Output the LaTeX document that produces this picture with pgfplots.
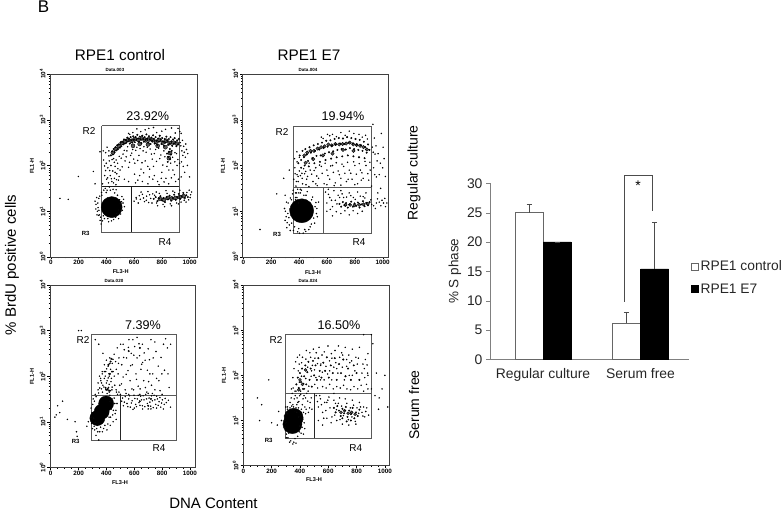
\documentclass[border=0pt]{standalone}
\usepackage{fontspec}
\setmainfont{Liberation Sans}
\usepackage{pgfplots}
\pgfplotsset{compat=1.18}
\newcommand{\T}[4][]{\node[inner sep=0pt,#1] at (#2pt,{(510-#3)*1pt}) {#4};}
\pgfplotsset{
 flow/.style={scale only axis,width=147pt,height=183pt,anchor=south west,
  ymin=0,ymax=400,clip=true,axis line style={black!75,line width=0.7pt},
  xtick={0,200,400,600,800,1000},xticklabels={0,200,400,600,800,1000},
  minor xtick={50,100,150,250,300,350,450,500,550,650,700,750,850,900,950},
  ytick={0,100,200,300,400},
  yticklabels={10\textsuperscript{0},10\textsuperscript{1},10\textsuperscript{2},10\textsuperscript{3},10\textsuperscript{4}},
  minor ytick={30,48,60,70,78,85,90,95,130,148,160,170,178,185,190,195,230,248,260,270,278,285,290,295,330,348,360,370,378,385,390,395},
  tick align=outside,xtick pos=bottom,ytick pos=left,
  major tick length=2.5pt,minor tick length=1.3pt,
  tick style={black,line width=0.4pt},
  xticklabel style={font=\bfseries\fontsize{6.3}{7}\selectfont,yshift=2.5pt},
  yticklabel style={font=\bfseries\fontsize{6.3}{7}\selectfont,rotate=90,anchor=south,yshift=-1.5pt},
 },
 sp/.style={only marks,mark=*,mark size=0.52pt,mark options={draw=none,fill=black!72}},
 de/.style={only marks,mark=*,mark size=0.78pt,mark options={draw=none,fill=black}},
 co/.style={only marks,mark=*,mark size=#1pt,mark options={draw=none,fill=black,fill opacity=0.65}},
 gate/.style={no marks,black!65,line width=0.9pt},
}
\begin{document}
\begin{tikzpicture}
\path[use as bounding box] (0,0) rectangle (784pt,510pt);
% ---------- panel 1
\begin{axis}[flow,at={(50pt,253pt)},xmin=-7,xmax=1054]
\addplot[gate] coordinates {(366,287)(926,287)(926,54)(366,54)(366,287)};
\addplot[gate,black!90] coordinates {(366,154)(926,154)};
\addplot[gate,black!90] coordinates {(580,154)(580,54)};
\addplot[only marks,mark=*,mark size=10.5pt,mark options={draw=none,fill=black}] coordinates {(438,109)};
\addplot[sp] coordinates {(402,170)(410,195)(415,162)(421,210)(428,178)(433,200)(440,165)(446,188)(452,215)(458,172)(463,198)(469,158)(475,182)(481,205)(487,168)(493,220)(499,190)(380,212)(388,178)(395,228)(405,240)(418,232)(470,212)(492,176)
(520,225)(535,210)(548,232)(560,196)(575,222)(590,235)(605,205)(620,240)(635,222)(650,192)(665,232)(680,210)(695,240)(710,175)(725,225)(740,198)(755,235)(770,165)(785,215)(800,185)(815,232)(830,172)(880,190)(895,228)(910,200)(920,170)(660,165)(700,160)(735,170)(640,178)(610,162)(780,158)(850,160)(900,165)(560,165)(530,170)
(932,250)(945,232)(958,242)(970,218)(985,200)(940,270)(952,222)(965,185)(978,235)(1000,175)(940,175)(928,205)
(560,270)(620,280)(680,278)(740,283)(800,275)(870,282)(930,274)
(600,122)(615,130)(630,118)(645,126)(660,137)(675,121)(690,133)(705,119)(720,128)(735,138)(650,142)(700,143)(760,142)(830,145)(880,144)(930,146)(770,112)(820,110)(870,112)(920,116)(975,120)(1005,130)(1015,142)(998,146)
(325,115)(335,100)(345,128)(350,92)(365,141)(378,90)(392,150)(410,84)(428,146)(445,88)(460,140)(478,95)(495,125)(505,108)(512,132)(520,118)(330,130)(340,108)(355,80)(480,135)(530,110)
(306,187)(354,230)(198,176)(65,128)(125,126)(318,160)
(441,213)(457,207)(463,185)(424,189)(409,173)(436,171)(451,162)(473,169)(418,221)(399,205)(387,199)(377,232)(372,160)(394,189)(483,193)(507,216)(514,197)(529,233)(543,219)(553,241)(567,207)(583,227)(597,214)(612,233)(626,211)(643,237)(657,206)(671,241)(687,229)(699,198)(716,236)(731,214)(746,226)(762,209)(777,238)(793,223)(807,201)(822,219)(837,198)(851,190)(864,205)(878,218)(891,180)(906,226)(916,213)(603,181)(627,168)(669,184)(712,192)(746,178)(796,172)(816,164)(869,173)(894,208)(937,243)(949,255)(962,229)(973,247)(987,226)(942,208)(955,198)(569,268)(591,272)(648,274)(706,281)(763,272)(827,279)(897,271)(917,281)(616,127)(638,134)(668,129)(688,124)(712,136)(729,118)(748,135)(763,118)(782,139)(809,115)(838,139)(861,116)(893,141)(907,118)(939,120)(962,124)(981,141)(994,125)(1008,136)
(338,118)(346,102)(352,133)(343,91)(359,87)(367,135)(372,79)(386,84)(399,141)(416,77)(437,79)(452,82)(466,87)(472,128)(488,103)(497,117)(503,94)(515,102)(524,126)(488,84)(332,92)(324,105)(318,122)(362,72)(405,146)(421,153)(448,148)(470,147)(509,121)(381,146)};
\addplot[de] coordinates {(432,222)(441,231)(447,224)(452,236)(459,229)(466,240)(471,233)(478,244)(484,236)(490,246)(497,239)(503,250)(508,242)(515,252)(521,246)(527,257)(533,248)(539,256)(545,250)(551,261)(557,253)(563,258)(569,248)(575,262)(581,255)(587,250)(593,264)(599,257)(605,251)(611,262)(617,256)(623,267)(629,259)(635,252)(641,263)(647,257)(653,249)(659,265)(665,258)(671,252)(677,262)(683,256)(689,268)(695,259)(701,250)(707,264)(713,257)(719,247)(725,261)(731,254)(737,266)(743,258)(749,248)(755,262)(761,254)(767,245)(773,259)(779,252)(785,265)(791,256)(797,247)(803,260)(809,252)(815,243)(821,258)(827,250)(833,263)(839,254)(845,245)(851,258)(857,248)(863,262)(869,253)(875,243)(881,257)(887,248)(893,260)(899,251)(905,242)(911,255)(917,246)(923,258)
(838,226)(846,219)(852,230)(860,214)(866,224)(872,232)(843,208)(858,236)
(742,127)(756,131)(768,122)(779,128)(790,133)(801,124)(812,129)(823,120)(834,131)(845,126)(856,134)(867,123)(878,129)(889,136)(900,125)(911,131)(922,138)(933,127)(944,133)(955,140)(966,129)(977,135)(988,131)};
\addplot[co=2] coordinates {(447,228)(468,236)(489,243)(511,249)(534,252)(558,256)(582,254)(604,258)(631,256)(656,259)(683,255)(708,257)(734,255)(759,252)(783,256)(808,250)(833,254)(857,249)(884,250)(908,248)(592,243)(640,247)(700,246)(770,243)(826,240)(860,227)(851,216)(786,127)(815,125)(843,129)(872,128)(900,129)(930,131)(958,133)};
\end{axis}
% ---------- panel 2
\begin{axis}[flow,at={(242.7pt,253pt)},width=145.3pt,xmin=-4,xmax=1038]
\addplot[gate] coordinates {(359,286)(918,286)(918,52)(359,52)(359,286)};
\addplot[gate] coordinates {(359,152)(918,152)};
\addplot[gate] coordinates {(572,152)(572,52)};
\addplot[only marks,mark=*,mark size=12pt,mark options={draw=none,fill=black}] coordinates {(419,101)};
\addplot[sp] coordinates {(362,170)(370,195)(378,155)(386,180)(394,165)(402,188)(368,215)(385,230)(375,140)(390,148)(398,140)(410,178)(425,160)(440,182)(455,170)(375,125)(385,130)(395,118)(415,125)(435,135)
(480,190)(500,165)(520,195)(540,172)(560,198)(580,160)(600,190)(620,170)(640,200)(660,162)(680,188)(700,172)(720,198)(740,165)(760,190)(780,170)(800,200)(820,160)(840,190)(860,172)(880,200)(900,168)(910,190)(520,160)(600,158)(700,157)(800,158)(450,158)
(560,262)(640,268)(700,272)(760,275)(830,268)(890,258)(620,265)
(925,240)(945,225)(960,210)(975,180)(990,270)(935,195)(955,175)(1000,195)(1010,215)(920,155)(965,140)(940,260)(985,150)(930,290)
(600,118)(620,130)(640,110)(660,124)(680,135)(590,142)(610,148)(650,145)(700,145)(760,140)(820,142)(880,140)(720,130)(790,130)(860,132)(915,125)(935,112)(955,118)(975,120)(995,124)(1015,128)(1030,118)(600,100)(640,90)(700,95)(760,92)(820,95)
(300,80)(310,120)(320,95)(330,70)(345,125)(360,58)(375,130)(390,55)(410,140)(430,52)(450,135)(470,60)(490,125)(505,85)(515,110)(525,95)(335,105)(315,75)(540,120)
(240,138)(120,60)(300,135)(330,190)(290,172)
(421,183)(433,193)(448,187)(461,176)(473,205)(491,181)(508,189)(527,177)(547,201)(566,183)(587,205)(607,178)(627,199)(646,185)(667,206)(689,180)(708,203)(729,183)(748,207)(771,183)(792,208)(811,181)(832,204)(851,184)(873,209)(893,182)(908,207)(402,218)(386,208)(372,182)(381,165)(393,176)(409,148)(423,172)(471,154)(531,156)(652,156)(752,170)(846,168)(573,259)(604,268)(668,263)(731,266)(793,270)(853,262)(877,266)(932,229)(952,243)(967,226)(983,205)(943,180)(1003,240)(1019,176)(611,137)(633,124)(672,116)(691,130)(709,138)(741,131)(771,134)(803,126)(839,133)(872,129)(921,115)(947,106)(963,127)(987,112)(1006,118)(1020,110)(624,104)(667,99)(729,101)(788,101)(853,100)
(322,118)(327,86)(338,129)(347,74)(353,138)(368,66)(382,140)(398,62)(417,146)(441,60)(459,143)(480,66)(497,131)(512,74)(521,119)(531,88)(302,100)(308,88)(296,106)(358,146)(404,52)(448,56)(488,72)(528,106)(312,64)(337,58)};
\addplot[de] coordinates {(395,205)(405,222)(415,212)(425,232)(435,218)(445,236)(455,224)(465,210)(475,240)(485,228)(495,216)(505,244)(515,232)(525,221)(535,247)(545,235)(555,222)(565,250)(575,238)(585,226)(595,254)(605,241)(615,229)(625,255)(635,243)(645,231)(655,258)(665,246)(675,234)(685,260)(695,248)(705,236)(715,259)(725,247)(735,235)(745,262)(755,250)(765,238)(775,260)(785,248)(795,236)(805,258)(815,246)(825,234)(835,256)(845,244)(855,232)(865,252)(875,240)(885,228)(895,246)(905,234)(415,195)(440,200)(470,198)(510,205)(550,208)(590,212)(630,215)(670,218)(710,220)(750,222)(790,220)(830,218)(870,216)
(690,116)(702,110)(714,120)(726,113)(738,118)(750,108)(762,115)(774,121)(786,110)(798,117)(810,112)(822,119)(834,108)(846,115)(858,122)(870,111)(882,118)(894,113)(906,120)};
\addplot[co=1.7] coordinates {(438,222)(459,228)(482,232)(507,232)(533,237)(558,240)(584,242)(610,246)(634,244)(661,247)(688,246)(712,247)(738,248)(763,250)(789,246)(813,245)(838,243)(862,240)(887,235)(447,206)(502,214)(571,222)(640,226)(715,234)(790,232)(733,114)(766,114)(798,113)(831,114)(862,115)(893,116)};
\end{axis}
% ---------- panel 3
\begin{axis}[flow,at={(50pt,42.7pt)},width=145pt,height=182.3pt,xmin=-5,xmax=1036]
\addplot[gate] coordinates {(294,292)(905,292)(905,60)(294,60)(294,292)};
\addplot[gate] coordinates {(294,158)(905,158)};
\addplot[gate,black!85] coordinates {(503,158)(503,60)};
\addplot[only marks,mark=*,mark size=7.5pt,mark options={draw=none,fill=black}] coordinates {(335,108)(366,122)(398,140)};
\addplot[sp] coordinates {(290,130)(300,100)(305,150)(312,90)(320,160)(330,85)(340,170)(352,78)(365,172)(380,85)(395,175)(410,95)(420,165)(430,110)(440,150)(450,125)(460,140)(470,105)(480,160)(290,110)(300,85)(415,175)(400,185)(385,195)(360,190)(340,185)(375,180)(430,168)(445,115)(350,200)(370,205)(395,210)(420,200)(325,70)(345,60)(270,100)(260,90)
(200,300)(220,300)(120,105)(85,145)(40,115)(30,110)(65,120)(50,135)(185,78)(190,68)(175,100)
(320,280)(345,270)(365,185)(375,250)(385,210)(395,172)(400,235)(405,190)(412,222)(418,205)(424,240)(430,215)(436,195)(442,228)(448,210)(455,248)(460,180)(466,232)(472,165)(478,262)(484,205)(490,240)(496,180)(502,270)(510,225)(520,198)(528,258)(535,170)(545,240)(555,212)(562,280)(570,190)(578,250)(586,225)(595,170)(603,265)(612,205)(620,285)(628,178)(638,245)(648,215)(658,270)(668,190)(678,235)(690,165)(700,260)(712,205)(724,180)(736,240)(748,275)(760,195)(772,222)(785,168)(798,205)(810,270)(825,282)(838,262)(850,175)(620,240)(660,230)(520,270)(590,280)(680,175)(730,162)(560,160)(500,160)(720,280)
(510,145)(522,135)(535,155)(548,140)(560,150)(572,132)(585,146)(598,158)(610,138)(622,150)(634,142)(646,156)(658,135)(670,148)(682,160)(694,140)(706,152)(718,134)(730,146)(742,158)(754,138)(766,150)(778,144)(790,132)(802,148)(815,138)(830,142)(800,160)(760,130)(720,128)(660,128)(600,130)(490,165)(470,170)(640,160)(700,162)
(297,120)(302,138)(309,108)(314,145)(318,98)(326,155)(334,92)(344,163)(358,88)(372,165)(389,92)(408,170)(419,110)(427,145)(436,128)(446,140)(456,152)(463,118)(476,140)(294,96)(316,82)(338,78)(371,78)(404,82)(428,92)(448,100)(468,125)(382,176)(352,174)(405,162)(425,158)(440,170)
(392,200)(402,216)(413,196)(425,228)(433,188)(447,237)(456,200)(471,215)(487,228)(508,183)(524,241)(542,204)(558,263)(574,223)(597,246)(616,193)(634,271)(653,226)(671,251)(694,213)(709,236)(733,205)(756,254)(777,190)(792,241)(817,213)(842,205)(861,270)(583,172)(642,172)(703,188)(748,170)(420,182)(441,176)(385,225)(370,210)(358,195)
(516,152)(529,143)(541,162)(554,133)(567,157)(579,141)(591,127)(604,151)(616,133)(628,158)(641,136)(652,148)(664,157)(676,133)(688,150)(700,128)(712,143)(724,157)(736,131)(748,148)(760,156)(772,136)(784,153)(796,141)(809,128)(822,151)(845,147)(860,132)};
\addplot[de] coordinates {(415,225)(430,232)(440,210)(425,205)(435,238)(398,170)(410,172)(420,168)(640,145)(720,150)(700,135)(560,255)(640,262)};
\end{axis}
% ---------- panel 4
\begin{axis}[flow,at={(243pt,44.3pt)},width=146pt,height=180.7pt,xmin=-2,xmax=1029]
\addplot[gate] coordinates {(296,291)(904,291)(904,61)(296,61)(296,291)};
\addplot[gate] coordinates {(296,160)(904,160)};
\addplot[gate,black!85] coordinates {(504,160)(504,61)};
\addplot[only marks,mark=*,mark size=9.5pt,mark options={draw=none,fill=black}] coordinates {(347,92)(356,106)};
\addplot[sp] coordinates {(340,170)(350,195)(358,215)(365,165)(370,230)(382,240)(395,225)(405,165)(418,240)(432,170)(445,255)(458,165)(470,250)(482,210)(495,258)(505,180)(515,250)(525,172)(535,262)(548,225)(560,175)(572,252)(585,172)(598,265)(610,180)(622,248)(635,170)(648,255)(660,175)(672,265)(685,172)(695,250)(708,178)(720,262)(732,170)(745,245)(758,168)(770,258)(782,175)(795,240)(808,170)(820,262)(832,178)(845,225)(858,195)(870,180)(862,235)(805,225)(770,200)(730,235)(660,215)(610,210)(545,190)(850,165)(880,170)(878,205)(905,290)(850,290)(880,200)
(345,160)(360,148)(372,165)(385,140)(398,155)(410,125)(422,148)(435,130)(448,160)(460,118)(472,140)(485,125)(355,130)(370,120)(390,128)(405,158)(425,118)(440,150)(330,140)(345,125)(380,150)
(290,110)(295,85)(300,130)(305,70)(315,62)(325,120)(335,55)(350,135)(365,60)(380,118)(395,75)(405,100)(415,85)(425,70)(410,118)(430,95)(440,115)(300,95)(310,115)
(515,155)(530,130)(545,148)(560,118)(575,140)(590,105)(605,152)(620,95)(640,145)(660,100)(680,150)(700,92)(720,148)(745,90)(770,145)(795,92)(820,140)(845,110)(865,120)(885,112)(850,130)(530,100)(560,90)(590,140)(540,155)(640,160)
(130,135)(100,150)(180,190)(115,100)(200,95)(960,150)(980,170)(1000,200)(940,205)(955,125)(1020,130)(880,248)(915,270)(905,170)(930,155)(250,120)(240,90)(270,100)(0,60)
(388,210)(396,185)(411,198)(426,182)(441,193)(455,218)(463,176)(479,198)(488,222)(503,212)(513,195)(524,226)(536,198)(546,222)(558,207)(571,190)(584,220)(596,203)(609,232)(625,190)(639,218)(653,228)(668,205)(681,240)(699,218)(714,190)(730,220)(748,200)(765,232)(788,210)(813,238)(838,205)(855,215)(874,223)(442,236)(412,228)(398,245)(476,240)(506,238)(556,245)(626,238)(702,245)(752,228)
(352,172)(367,155)(378,135)(392,142)(403,118)(417,135)(429,155)(444,125)(455,143)(468,128)(480,150)(338,150)(362,122)
(302,118)(298,78)(312,125)(321,72)(330,128)(342,132)(357,52)(372,128)(384,65)(392,108)(398,88)(408,72)(420,102)(434,82)(303,62)(327,52)(372,50)(295,100)(312,130)(350,48)
(646,112)(658,124)(671,138)(683,102)(694,132)(707,111)(719,122)(731,138)(742,102)(756,128)(767,108)(779,134)(791,98)(803,128)(815,116)(828,130)(838,118)(858,108)(872,128)(524,142)(552,135)(568,105)(583,122)(597,145)(612,128)(626,108)(651,138)};
\addplot[de] coordinates {(375,180)(385,195)(392,172)(400,205)(408,185)(415,215)(422,170)(430,198)(438,222)(445,180)(452,207)(460,230)(468,190)(476,215)(484,175)(492,232)(500,200)(510,222)(520,190)(530,238)(540,210)(552,195)(565,228)(578,210)(590,240)(604,195)(618,222)(632,205)(646,238)(660,190)(676,225)(690,205)(706,235)(722,198)(740,215)(760,190)(780,222)(800,205)(820,190)
(640,128)(652,118)(664,132)(676,122)(688,110)(700,126)(712,116)(724,130)(736,108)(748,122)(760,114)(772,128)(784,105)(796,118)(808,110)(820,124)(700,105)(730,98)(760,100)};
\addplot[co=1.5] coordinates {(690,118)(715,122)(740,116)(765,118)(790,114)(400,190)(418,180)(392,168)(440,212)};
\end{axis}
% ---------- bar chart
\begin{axis}[scale only axis,width=199pt,height=176pt,at={(490pt,150.7pt)},anchor=south west,
 xmin=-0.5436,xmax=1.497,ymin=0,ymax=30,clip=false,
 axis x line=bottom,axis y line=left,axis line style={black!50,-},
 xtick={0,1},xticklabels={Regular culture,Serum free},x tick style={draw=none},
 ytick={0,5,...,30},y tick style={black!50},major tick length=4pt,
 tick align=outside,
 ylabel={\% S phase},ylabel style={font=\fontsize{13.5}{14}\selectfont,text=black!85,yshift=-1pt},
 every y tick label/.append style={font=\fontsize{13.9}{15}\selectfont,text=black!85},
 every x tick label/.append style={font=\fontsize{13.9}{15}\selectfont,text=black!85,yshift=-2pt},
 /pgf/number format/assume math mode=true,
 legend style={at={(1.008,0.572)},anchor=north west,draw=none,fill=none,font=\fontsize{13.8}{15}\selectfont,inner sep=0pt,row sep=7.3pt,text=black!85,/tikz/every even column/.append style={column sep=1pt}},
 legend cell align=left,
 legend image code/.code={\draw[#1] (0pt,-3.5pt) rectangle (7pt,3.5pt);},
]
\addplot[ybar,bar width=28pt,bar shift=0pt,draw=black!60,fill=white,line width=0.8pt,
 error bars/.cd,y dir=plus,y explicit,error bar style={black!70,line width=0.7pt},error mark options={black!70,rotate=90,mark size=2.5pt}]
 coordinates {(-0.1436,25) +- (0,1.4) (0.856,6.2) +- (0,1.8)};
\addlegendentry{RPE1 control}
\addplot[ybar,bar width=28pt,bar shift=0pt,draw=black,fill=black,line width=0.4pt,
 error bars/.cd,y dir=plus,y explicit,error bar style={black!70,line width=0.7pt},error mark options={black!70,rotate=90,mark size=2.5pt}]
 coordinates {(0.1436,20) +- (0,0) (1.144,15.4) +- (0,8)};
\addlegendentry{RPE1 E7}
\addplot[forget plot,no marks,black!70,line width=0.8pt] coordinates {(0.834,9.8)(0.834,31.4)(1.125,31.4)(1.125,25.2)};
\end{axis}
% ---------- text
\T{43.5}{7}{\fontsize{17}{18}\selectfont B}
\T{120}{55}{\fontsize{15.3}{16}\selectfont RPE1 control}
\T{309}{55}{\fontsize{15.3}{16}\selectfont RPE1 E7}
\T[rotate=90]{12}{265}{\fontsize{15}{16}\selectfont \% BrdU positive cells}
\T[rotate=90]{414}{173}{\fontsize{14}{15}\selectfont Regular culture}
\T[rotate=90]{414}{405}{\fontsize{14}{15}\selectfont Serum free}
\T{213.5}{503}{\fontsize{15}{16}\selectfont DNA Content}
\T{147.7}{116}{\fontsize{12.6}{13}\selectfont 23.92\%}
\T{343}{116}{\fontsize{12.6}{13}\selectfont 19.94\%}
\T{143}{325}{\fontsize{12.6}{13}\selectfont 7.39\%}
\T{339}{325}{\fontsize{12.6}{13}\selectfont 16.50\%}
\newcommand{\Rr}{\fontsize{10}{11}\selectfont}
\newcommand{\Rb}{\bfseries\fontsize{6}{7}\selectfont}
\newcommand{\Rf}{\bfseries\fontsize{5.6}{6}\selectfont}
\T{89}{131}{\Rr R2}\T{85.7}{233.7}{\Rb R3}\T{165}{241.7}{\Rr R4}
\T{282}{132}{\Rr R2}\T{277}{234}{\Rb R3}\T{359}{242}{\Rr R4}
\T{83}{340}{\Rr R2}\T{75.7}{441}{\Rb R3}\T{159}{447.7}{\Rr R4}
\T{276}{340}{\Rr R2}\T{268.7}{440}{\Rb R3}\T{355.7}{447.7}{\Rr R4}
\T{120.7}{272}{\Rf FL3-H}\T{313}{272.3}{\Rf FL3-H}\T{120}{482.7}{\Rf FL3-H}\T{314}{480}{\Rf FL3-H}
\T[rotate=90]{32}{166}{\Rf FL1-H}\T[rotate=90]{223}{166}{\Rf FL1-H}\T[rotate=90]{32}{376.7}{\Rf FL1-H}\T[rotate=90]{224}{375.7}{\Rf FL1-H}
\newcommand{\Rd}{\bfseries\fontsize{4.5}{5}\selectfont}
\T{115}{70}{\Rd Data.003}\T{308}{70}{\Rd Data.004}\T{114}{281}{\Rd Data.020}\T{308}{281}{\Rd Data.024}
\T{638}{186}{\fontsize{14}{15}\selectfont *}
\end{tikzpicture}
\end{document}
